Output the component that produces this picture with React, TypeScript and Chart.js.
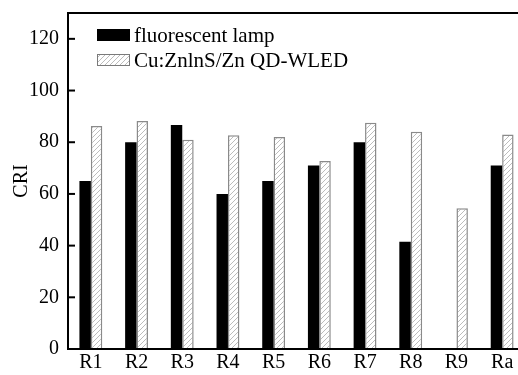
import React, { useEffect, useRef } from "react";
import { Chart, registerables } from "chart.js";

Chart.register(...registerables);

const categories = ["R1", "R2", "R3", "R4", "R5", "R6", "R7", "R8", "R9", "Ra"];
const fluorescentLamp = [65, 80, 86.7, 60, 65, 71, 80, 41.5, 0, 71];
const qdWled = [86.3, 88.2, 81, 82.7, 82, 72.7, 87.5, 84.1, 54.5, 83];
const yTicks = [0, 20, 40, 60, 80, 100, 120];
const seriesLabels = ["fluorescent lamp", "Cu:ZnlnS/Zn QD-WLED"];

const FONT = "'Liberation Serif', serif";

function makeHatch(): CanvasPattern | string {
  const c = document.createElement("canvas");
  const s = 5;
  c.width = s;
  c.height = s;
  const g = c.getContext("2d");
  if (!g) return "#eee";
  g.fillStyle = "#ffffff";
  g.fillRect(0, 0, s, s);
  g.strokeStyle = "#b4b4b4";
  g.lineWidth = 0.9;
  g.beginPath();
  g.moveTo(0, s);
  g.lineTo(s, 0);
  g.moveTo(-1, 1);
  g.lineTo(1, -1);
  g.moveTo(s - 1, s + 1);
  g.lineTo(s + 1, s - 1);
  g.stroke();
  const p = g.createPattern(c, "repeat");
  return p || "#eee";
}

export default function App() {
  const ref = useRef<HTMLCanvasElement | null>(null);

  useEffect(() => {
    const canvas = ref.current;
    if (!canvas) return;
    const hatch = makeHatch();

    const framePlugin = {
      id: "framePlugin",
      afterDraw(chart: any) {
        const { ctx, chartArea: a } = chart;
        const y = chart.scales.y;
        ctx.save();
        ctx.strokeStyle = "#000";
        ctx.lineWidth = 2;
        ctx.strokeRect(a.left, a.top, a.right - a.left, a.bottom - a.top);
        for (const v of yTicks) {
          const py = y.getPixelForValue(v);
          ctx.beginPath();
          ctx.moveTo(a.left, py);
          ctx.lineTo(a.left + 7, py);
          ctx.stroke();
        }
        // legend
        const bx = a.left + 29;
        const bw = 33;
        const bh = 12;
        const rows = [a.top + 16, a.top + 41];
        ctx.fillStyle = "#000";
        ctx.fillRect(bx, rows[0], bw, bh);
        ctx.fillStyle = hatch as any;
        ctx.fillRect(bx, rows[1], bw, bh);
        ctx.strokeStyle = "#7a7a7a";
        ctx.lineWidth = 1;
        ctx.strokeRect(bx + 0.5, rows[1] + 0.5, bw - 1, bh - 1);
        ctx.fillStyle = "#000";
        ctx.font = "21px " + FONT;
        ctx.textBaseline = "middle";
        ctx.textAlign = "left";
        ctx.fillText(seriesLabels[0], bx + bw + 4, rows[0] + bh / 2 + 1);
        ctx.fillText(seriesLabels[1], bx + bw + 4, rows[1] + bh / 2 + 1);
        ctx.restore();
      },
    };

    const chart = new Chart(canvas, {
      type: "bar",
      data: {
        labels: categories,
        datasets: [
          {
            label: seriesLabels[0],
            data: fluorescentLamp,
            backgroundColor: "#000000",
            borderWidth: 0,
            categoryPercentage: 0.5,
            barPercentage: 1.0,
          },
          {
            label: seriesLabels[1],
            data: qdWled,
            backgroundColor: hatch as any,
            borderColor: "#8a8a8a",
            borderWidth: 1.5,
            categoryPercentage: 0.5,
            barPercentage: 1.0,
          },
        ],
      },
      options: {
        animation: false,
        responsive: false,
        events: [],
        layout: { padding: { top: 13, right: 0, left: 0, bottom: 0 } },
        plugins: {
          legend: { display: false },
          tooltip: { enabled: false },
          title: { display: false },
        },
        scales: {
          x: {
            grid: { display: false, drawTicks: false },
            border: { display: false },
            ticks: {
              color: "#000",
              font: { family: FONT, size: 20 },
              padding: 2,
            },
            afterFit(scale: any) {
              scale.height = 26;
              scale.paddingLeft = 0;
              scale.paddingRight = 0;
            },
          },
          y: {
            min: 0,
            max: 130,
            grid: { display: false, drawTicks: false },
            border: { display: false },
            ticks: {
              color: "#000",
              font: { family: FONT, size: 20 },
              padding: 9,
            },
            afterBuildTicks(scale: any) {
              scale.ticks = yTicks.map((v) => ({ value: v }));
            },
            afterFit(scale: any) {
              scale.width = 68;
              scale.paddingTop = 0;
              scale.paddingBottom = 0;
            },
            title: {
              display: true,
              text: "CRI",
              color: "#000",
              font: { family: FONT, size: 20 },
              padding: { top: 10, bottom: 0 },
            },
          },
        },
      },
      plugins: [framePlugin],
    });

    return () => {
      chart.destroy();
    };
  }, []);

  return (
    <div
      style={{
        position: "fixed",
        left: 0,
        top: 0,
        width: 518,
        height: 375,
        overflow: "hidden",
        background: "#fff",
      }}
    >
      <canvas ref={ref} width={525} height={375} style={{ display: "block" }} />
    </div>
  );
}
